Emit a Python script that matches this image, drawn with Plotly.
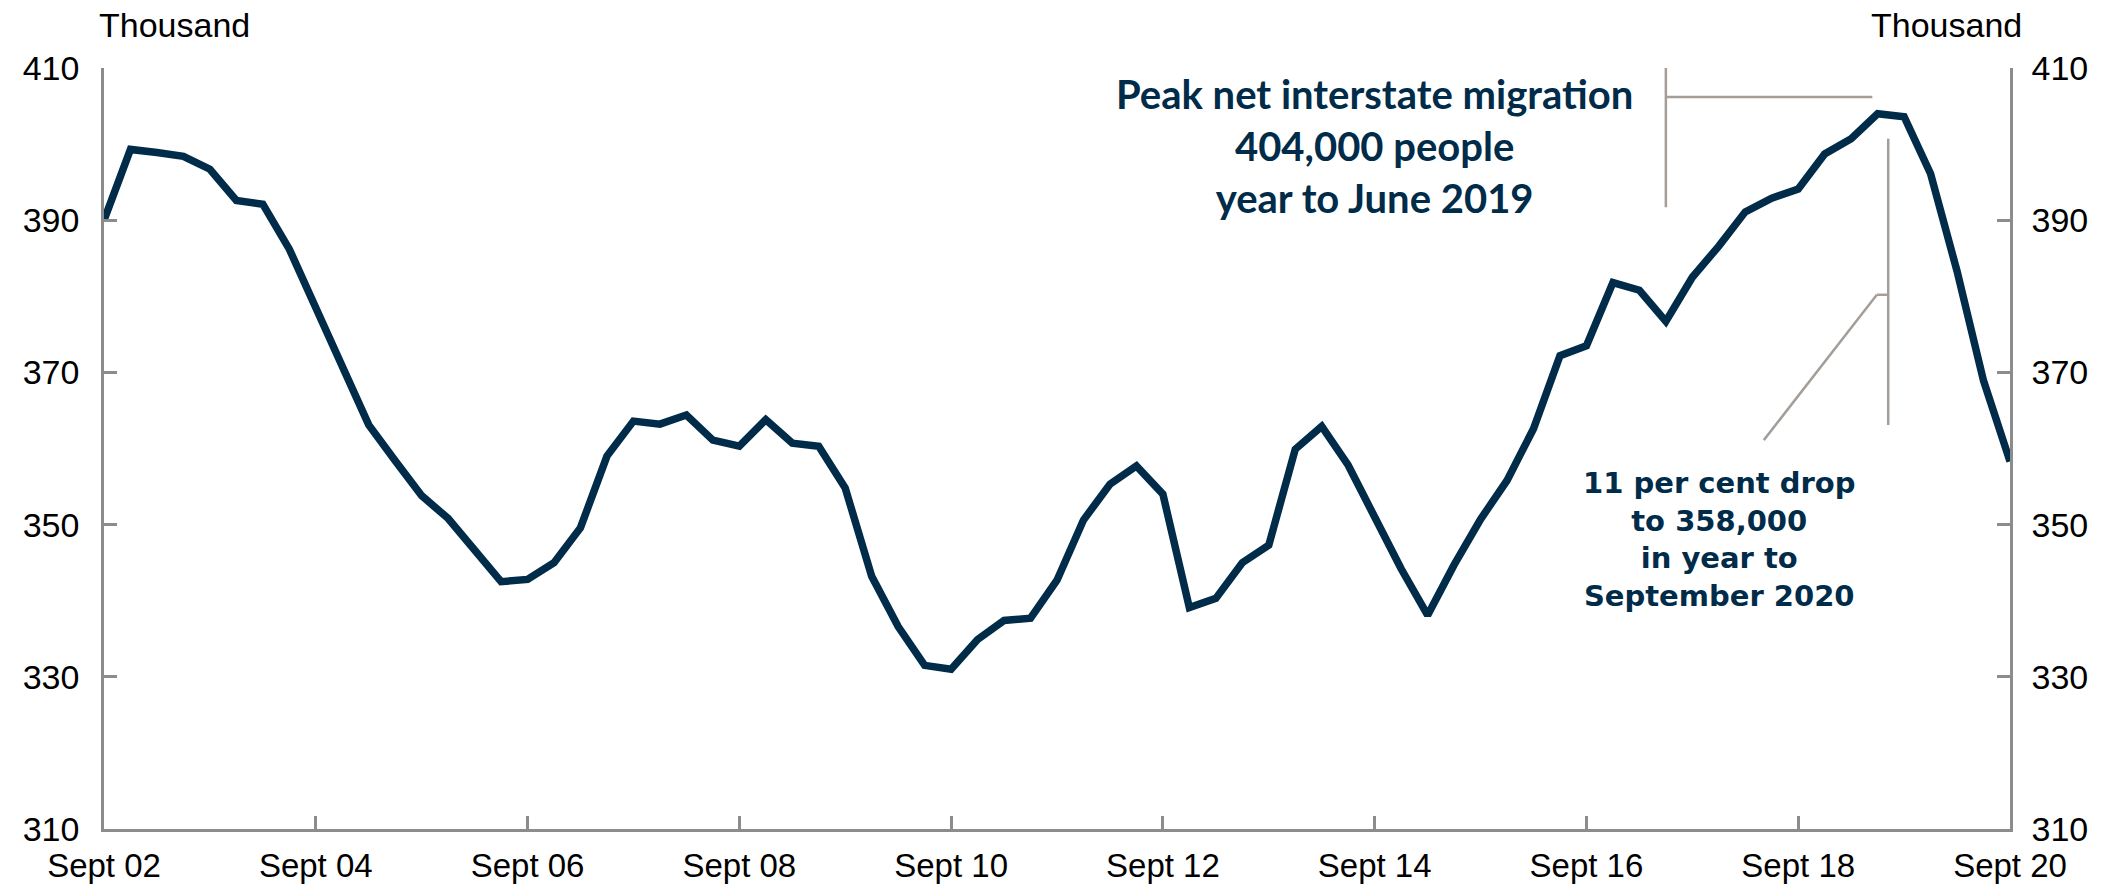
import plotly.graph_objects as go

# Quarterly net interstate migration (thousand), Sept 2002 .. Sept 2020
quarter_index = list(range(73))
migration = [
    390.0, 399.3, 398.9, 398.4, 396.7, 392.6, 392.1, 386.2, 378.5, 370.5,
    363.1, 358.4, 353.8, 350.8, 346.7, 342.5, 342.8, 345.0, 349.6, 359.0,
    363.6, 363.2, 364.4, 361.1, 360.3, 363.8, 360.7, 360.3, 354.8, 343.2,
    336.6, 331.5, 331.0, 334.9, 337.4, 337.7, 342.7, 350.6, 355.3, 357.7,
    354.0, 339.1, 340.3, 345.0, 347.3, 359.9, 362.9, 357.8, 351.0, 344.2,
    338.1, 344.7, 350.7, 355.8, 362.6, 372.2, 373.5, 381.8, 380.8, 376.7,
    382.5, 386.6, 391.1, 392.9, 394.1, 398.7, 400.7, 404.0, 403.6, 396.1,
    383.3, 368.9, 358.3,
]
x_tickvals = [0, 8, 16, 24, 32, 40, 48, 56, 64, 72]
x_ticktext = ["Sept 02", "Sept 04", "Sept 06", "Sept 08", "Sept 10",
              "Sept 12", "Sept 14", "Sept 16", "Sept 18", "Sept 20"]
y_tickvals = [310, 330, 350, 370, 390, 410]

NAVY = "#002B49"
GREY = "#8C8C8C"
CONN = "#A59E98"

fig = go.Figure()
fig.add_trace(go.Scatter(x=quarter_index, y=migration, mode="lines",
                         line=dict(color=NAVY, width=7.5), showlegend=False,
                         hoverinfo="skip"))
# invisible trace for right axis
fig.add_trace(go.Scatter(x=[0, 72], y=[310, 410], yaxis="y2", mode="lines",
                         line=dict(width=0), showlegend=False, hoverinfo="skip"))

tickfont = dict(family="Liberation Sans, Arial", size=34, color="#000000")
xtickfont = dict(family="Liberation Sans, Arial", size=33, color="#000000")

fig.update_layout(
    template="none",
    width=2113, height=882,
    margin=dict(l=96, r=111, t=60, b=61, autoexpand=False),
    paper_bgcolor="white", plot_bgcolor="white",
    xaxis=dict(range=[0, 72], tickvals=x_tickvals, ticktext=x_ticktext,
               showgrid=False, zeroline=False, showline=True, linecolor=GREY,
               linewidth=2.5, ticks="inside", ticklen=13, tickcolor=GREY,
               tickwidth=2.5, tickfont=xtickfont, ticklabelstandoff=6,
               automargin=False),
    yaxis=dict(range=[310, 410], tickvals=y_tickvals, showgrid=False,
               zeroline=False, showline=True, linecolor=GREY, linewidth=2.5,
               ticks="inside", ticklen=13, tickcolor=GREY, tickwidth=2.5,
               tickfont=tickfont, ticklabelstandoff=15, automargin=False),
    yaxis2=dict(range=[310, 410], tickvals=y_tickvals, overlaying="y",
                side="right", showgrid=False, zeroline=False, showline=True,
                linecolor=GREY, linewidth=2.5, ticks="inside", ticklen=13,
                tickcolor=GREY, tickwidth=2.5, tickfont=tickfont,
                ticklabelstandoff=12, automargin=False),
)

# Unit labels
fig.add_annotation(text="Thousand", xref="paper", yref="paper", x=-0.0034,
                   y=1.056, xanchor="left", yanchor="middle", showarrow=False,
                   font=tickfont, borderpad=0)
fig.add_annotation(text="Thousand", xref="paper", yref="paper", x=1.0068,
                   y=1.056, xanchor="right", yanchor="middle", showarrow=False,
                   font=tickfont, borderpad=0)

fig.add_annotation(text="<b>Peak net interstate migration<br>404,000 people<br>year to June 2019</b>",
                   x=48.0, y=399.7, xref="x", yref="y", showarrow=False,
                   align="center", font=dict(family="Lato, Open Sans", size=40, color=NAVY))
fig.add_annotation(text="<b>11 per cent drop<br>to 358,000<br>in year to<br>September 2020</b>",
                   x=61.0, y=348.1, xref="x", yref="y", showarrow=False,
                   align="center", font=dict(family="DejaVu Sans", size=29, color=NAVY))

# Connector lines
line_style = dict(color=CONN, width=2.5)
fig.add_shape(type="line", x0=59, x1=59, y0=391.7, y1=410.9, xref="x", yref="y", line=line_style)
fig.add_shape(type="line", x0=59, x1=66.8, y0=406.2, y1=406.2, xref="x", yref="y", line=line_style)
fig.add_shape(type="line", x0=67.4, x1=67.4, y0=363.1, y1=400.7, xref="x", yref="y", line=line_style)
fig.add_shape(type="line", x0=66.97, x1=67.4, y0=380.2, y1=380.2, xref="x", yref="y", line=line_style)
fig.add_shape(type="line", x0=62.7, x1=66.97, y0=361.1, y1=380.2, xref="x", yref="y", line=line_style)

fig.write_html("out.html")
